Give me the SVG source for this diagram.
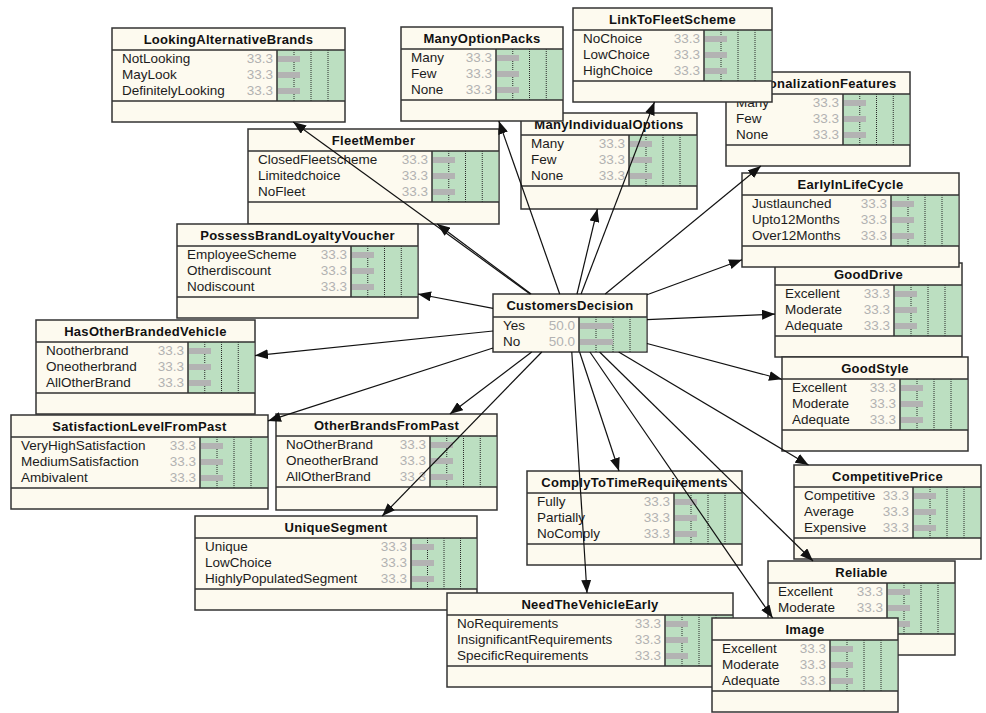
<svg xmlns="http://www.w3.org/2000/svg" width="986" height="713" viewBox="0 0 986 713">
<defs>
<style>
.bg{fill:#ffffff}
.box{fill:#fdfaef;stroke:#333;stroke-width:1.5}
.grn{fill:#bcdfc1}
.sep{stroke:#333;stroke-width:1.5;fill:none}
.dot{stroke:#2a2a2a;stroke-width:1;stroke-dasharray:1 1;fill:none}
.bar{fill:#b3b3b3}
.ttl{font-family:"Liberation Sans",Arial,sans-serif;font-size:13px;font-weight:bold;fill:#111;text-anchor:middle;letter-spacing:0.3px}
.st{font-family:"Liberation Sans",Arial,sans-serif;font-size:13.5px;fill:#1c1c1c}
.val{font-family:"Liberation Sans",Arial,sans-serif;font-size:13.5px;fill:#b2b2b2;text-anchor:end}
.edge{stroke:#111;stroke-width:1.2;fill:none;marker-end:url(#arr)}
</style>
<marker id="arr" markerUnits="userSpaceOnUse" markerWidth="13" markerHeight="10" viewBox="0 0 13 10" refX="13" refY="5" orient="auto">
<path d="M0,0 L13,5 L0,10 z" fill="#111"/>
</marker>
</defs>
<rect class="bg" x="0" y="0" width="986" height="713"/>

<g id="PersonalizationFeatures">
<rect class="box" x="726" y="72" width="184" height="94"/>
<rect class="grn" x="843" y="94" width="66.25" height="51"/>
<path class="dot" d="M859.75 94V145M876.5 94V145M893.25 94V145"/>
<path class="sep" d="M726 94H910M726 145H910M843 94V145"/>
<rect class="bar" x="844" y="100" width="22" height="6"/><rect class="bar" x="844" y="116" width="22" height="6"/><rect class="bar" x="844" y="132" width="22" height="6"/>
<text class="ttl" x="818" y="88">PersonalizationFeatures</text>
<text class="st" x="736" y="107">Many</text><text class="st" x="736" y="123">Few</text><text class="st" x="736" y="139">None</text>
<text class="val" x="839" y="107">33.3</text><text class="val" x="839" y="123">33.3</text><text class="val" x="839" y="139">33.3</text>
</g>

<g id="LinkToFleetScheme">
<rect class="box" x="573" y="8" width="199" height="94"/>
<rect class="grn" x="704" y="30" width="67.25" height="51"/>
<path class="dot" d="M721 30V81M738 30V81M755 30V81"/>
<path class="sep" d="M573 30H772M573 81H772M704 30V81"/>
<rect class="bar" x="705" y="36" width="22" height="6"/><rect class="bar" x="705" y="52" width="22" height="6"/><rect class="bar" x="705" y="68" width="22" height="6"/>
<text class="ttl" x="672.5" y="24">LinkToFleetScheme</text>
<text class="st" x="583" y="43">NoChoice</text><text class="st" x="583" y="59">LowChoice</text><text class="st" x="583" y="75">HighChoice</text>
<text class="val" x="700" y="43">33.3</text><text class="val" x="700" y="59">33.3</text><text class="val" x="700" y="75">33.3</text>
</g>

<g id="ManyIndividualOptions">
<rect class="box" x="521" y="113" width="176" height="96"/>
<rect class="grn" x="629" y="135" width="67.25" height="51"/>
<path class="dot" d="M646 135V186M663 135V186M680 135V186"/>
<path class="sep" d="M521 135H697M521 186H697M629 135V186"/>
<rect class="bar" x="630" y="141" width="22" height="6"/><rect class="bar" x="630" y="157" width="22" height="6"/><rect class="bar" x="630" y="173" width="22" height="6"/>
<text class="ttl" x="609" y="129">ManyIndividualOptions</text>
<text class="st" x="531" y="148">Many</text><text class="st" x="531" y="164">Few</text><text class="st" x="531" y="180">None</text>
<text class="val" x="625" y="148">33.3</text><text class="val" x="625" y="164">33.3</text><text class="val" x="625" y="180">33.3</text>
</g>

<g id="ManyOptionPacks">
<rect class="box" x="401" y="27" width="162" height="94"/>
<rect class="grn" x="496" y="49" width="66.25" height="51"/>
<path class="dot" d="M512.75 49V100M529.5 49V100M546.25 49V100"/>
<path class="sep" d="M401 49H563M401 100H563M496 49V100"/>
<rect class="bar" x="497" y="55" width="22" height="6"/><rect class="bar" x="497" y="71" width="22" height="6"/><rect class="bar" x="497" y="87" width="22" height="6"/>
<text class="ttl" x="482" y="43">ManyOptionPacks</text>
<text class="st" x="411" y="62">Many</text><text class="st" x="411" y="78">Few</text><text class="st" x="411" y="94">None</text>
<text class="val" x="492" y="62">33.3</text><text class="val" x="492" y="78">33.3</text><text class="val" x="492" y="94">33.3</text>
</g>

<g id="LookingAlternativeBrands">
<rect class="box" x="112" y="28" width="233" height="94"/>
<rect class="grn" x="277" y="50" width="67.25" height="51"/>
<path class="dot" d="M294 50V101M311 50V101M328 50V101"/>
<path class="sep" d="M112 50H345M112 101H345M277 50V101"/>
<rect class="bar" x="278" y="56" width="22" height="6"/><rect class="bar" x="278" y="72" width="22" height="6"/><rect class="bar" x="278" y="88" width="22" height="6"/>
<text class="ttl" x="228.5" y="44">LookingAlternativeBrands</text>
<text class="st" x="122" y="63">NotLooking</text><text class="st" x="122" y="79">MayLook</text><text class="st" x="122" y="95">DefinitelyLooking</text>
<text class="val" x="273" y="63">33.3</text><text class="val" x="273" y="79">33.3</text><text class="val" x="273" y="95">33.3</text>
</g>

<g id="FleetMember">
<rect class="box" x="248" y="129" width="251" height="95"/>
<rect class="grn" x="432" y="151" width="66.25" height="51"/>
<path class="dot" d="M448.75 151V202M465.5 151V202M482.25 151V202"/>
<path class="sep" d="M248 151H499M248 202H499M432 151V202"/>
<rect class="bar" x="433" y="157" width="22" height="6"/><rect class="bar" x="433" y="173" width="22" height="6"/><rect class="bar" x="433" y="189" width="22" height="6"/>
<text class="ttl" x="373.5" y="145">FleetMember</text>
<text class="st" x="258" y="164">ClosedFleetscheme</text><text class="st" x="258" y="180">Limitedchoice</text><text class="st" x="258" y="196">NoFleet</text>
<text class="val" x="428" y="164">33.3</text><text class="val" x="428" y="180">33.3</text><text class="val" x="428" y="196">33.3</text>
</g>

<g id="PossessBrandLoyaltyVoucher">
<rect class="box" x="177" y="224" width="241" height="94"/>
<rect class="grn" x="351" y="246" width="66.25" height="51"/>
<path class="dot" d="M367.75 246V297M384.5 246V297M401.25 246V297"/>
<path class="sep" d="M177 246H418M177 297H418M351 246V297"/>
<rect class="bar" x="352" y="252" width="22" height="6"/><rect class="bar" x="352" y="268" width="22" height="6"/><rect class="bar" x="352" y="284" width="22" height="6"/>
<text class="ttl" x="297.5" y="240">PossessBrandLoyaltyVoucher</text>
<text class="st" x="187" y="259">EmployeeScheme</text><text class="st" x="187" y="275">Otherdiscount</text><text class="st" x="187" y="291">Nodiscount</text>
<text class="val" x="347" y="259">33.3</text><text class="val" x="347" y="275">33.3</text><text class="val" x="347" y="291">33.3</text>
</g>

<g id="HasOtherBrandedVehicle">
<rect class="box" x="36" y="320" width="219" height="94"/>
<rect class="grn" x="188" y="342" width="66.25" height="51"/>
<path class="dot" d="M204.75 342V393M221.5 342V393M238.25 342V393"/>
<path class="sep" d="M36 342H255M36 393H255M188 342V393"/>
<rect class="bar" x="189" y="348" width="22" height="6"/><rect class="bar" x="189" y="364" width="22" height="6"/><rect class="bar" x="189" y="380" width="22" height="6"/>
<text class="ttl" x="145.5" y="336">HasOtherBrandedVehicle</text>
<text class="st" x="46" y="355">Nootherbrand</text><text class="st" x="46" y="371">Oneotherbrand</text><text class="st" x="46" y="387">AllOtherBrand</text>
<text class="val" x="184" y="355">33.3</text><text class="val" x="184" y="371">33.3</text><text class="val" x="184" y="387">33.3</text>
</g>

<g id="SatisfactionLevelFromPast">
<rect class="box" x="11" y="415" width="257" height="94"/>
<rect class="grn" x="200" y="437" width="67.25" height="51"/>
<path class="dot" d="M217 437V488M234 437V488M251 437V488"/>
<path class="sep" d="M11 437H268M11 488H268M200 437V488"/>
<rect class="bar" x="201" y="443" width="22" height="6"/><rect class="bar" x="201" y="459" width="22" height="6"/><rect class="bar" x="201" y="475" width="22" height="6"/>
<text class="ttl" x="139.5" y="431">SatisfactionLevelFromPast</text>
<text class="st" x="21" y="450">VeryHighSatisfaction</text><text class="st" x="21" y="466">MediumSatisfaction</text><text class="st" x="21" y="482">Ambivalent</text>
<text class="val" x="196" y="450">33.3</text><text class="val" x="196" y="466">33.3</text><text class="val" x="196" y="482">33.3</text>
</g>

<g id="OtherBrandsFromPast">
<rect class="box" x="276" y="414" width="221" height="96"/>
<rect class="grn" x="430" y="436" width="66.25" height="51"/>
<path class="dot" d="M446.75 436V487M463.5 436V487M480.25 436V487"/>
<path class="sep" d="M276 436H497M276 487H497M430 436V487"/>
<rect class="bar" x="431" y="442" width="22" height="6"/><rect class="bar" x="431" y="458" width="22" height="6"/><rect class="bar" x="431" y="474" width="22" height="6"/>
<text class="ttl" x="386.5" y="430">OtherBrandsFromPast</text>
<text class="st" x="286" y="449">NoOtherBrand</text><text class="st" x="286" y="465">OneotherBrand</text><text class="st" x="286" y="481">AllOtherBrand</text>
<text class="val" x="426" y="449">33.3</text><text class="val" x="426" y="465">33.3</text><text class="val" x="426" y="481">33.3</text>
</g>

<g id="UniqueSegment">
<rect class="box" x="195" y="516" width="282" height="94"/>
<rect class="grn" x="411" y="538" width="65.25" height="51"/>
<path class="dot" d="M427.5 538V589M444 538V589M460.5 538V589"/>
<path class="sep" d="M195 538H477M195 589H477M411 538V589"/>
<rect class="bar" x="412" y="544" width="22" height="6"/><rect class="bar" x="412" y="560" width="22" height="6"/><rect class="bar" x="412" y="576" width="22" height="6"/>
<text class="ttl" x="336" y="532">UniqueSegment</text>
<text class="st" x="205" y="551">Unique</text><text class="st" x="205" y="567">LowChoice</text><text class="st" x="205" y="583">HighlyPopulatedSegment</text>
<text class="val" x="407" y="551">33.3</text><text class="val" x="407" y="567">33.3</text><text class="val" x="407" y="583">33.3</text>
</g>

<g id="NeedTheVehicleEarly">
<rect class="box" x="447" y="593" width="286" height="94"/>
<rect class="grn" x="665" y="615" width="67.25" height="51"/>
<path class="dot" d="M682 615V666M699 615V666M716 615V666"/>
<path class="sep" d="M447 615H733M447 666H733M665 615V666"/>
<rect class="bar" x="666" y="621" width="22" height="6"/><rect class="bar" x="666" y="637" width="22" height="6"/><rect class="bar" x="666" y="653" width="22" height="6"/>
<text class="ttl" x="590" y="609">NeedTheVehicleEarly</text>
<text class="st" x="457" y="628">NoRequirements</text><text class="st" x="457" y="644">InsignificantRequirements</text><text class="st" x="457" y="660">SpecificRequirements</text>
<text class="val" x="661" y="628">33.3</text><text class="val" x="661" y="644">33.3</text><text class="val" x="661" y="660">33.3</text>
</g>

<g id="ComplyToTimeRequirements">
<rect class="box" x="527" y="471" width="215" height="94"/>
<rect class="grn" x="674" y="493" width="67.25" height="51"/>
<path class="dot" d="M691 493V544M708 493V544M725 493V544"/>
<path class="sep" d="M527 493H742M527 544H742M674 493V544"/>
<rect class="bar" x="675" y="499" width="22" height="6"/><rect class="bar" x="675" y="515" width="22" height="6"/><rect class="bar" x="675" y="531" width="22" height="6"/>
<text class="ttl" x="634.5" y="487">ComplyToTimeRequirements</text>
<text class="st" x="537" y="506">Fully</text><text class="st" x="537" y="522">Partially</text><text class="st" x="537" y="538">NoComply</text>
<text class="val" x="670" y="506">33.3</text><text class="val" x="670" y="522">33.3</text><text class="val" x="670" y="538">33.3</text>
</g>

<g id="CompetitivePrice">
<rect class="box" x="794" y="465" width="187" height="94"/>
<rect class="grn" x="913" y="487" width="67.25" height="51"/>
<path class="dot" d="M930 487V538M947 487V538M964 487V538"/>
<path class="sep" d="M794 487H981M794 538H981M913 487V538"/>
<rect class="bar" x="914" y="493" width="22" height="6"/><rect class="bar" x="914" y="509" width="22" height="6"/><rect class="bar" x="914" y="525" width="22" height="6"/>
<text class="ttl" x="887.5" y="481">CompetitivePrice</text>
<text class="st" x="804" y="500">Competitive</text><text class="st" x="804" y="516">Average</text><text class="st" x="804" y="532">Expensive</text>
<text class="val" x="909" y="500">33.3</text><text class="val" x="909" y="516">33.3</text><text class="val" x="909" y="532">33.3</text>
</g>

<g id="Reliable">
<rect class="box" x="768" y="561" width="187" height="94"/>
<rect class="grn" x="887" y="583" width="67.25" height="51"/>
<path class="dot" d="M904 583V634M921 583V634M938 583V634"/>
<path class="sep" d="M768 583H955M768 634H955M887 583V634"/>
<rect class="bar" x="888" y="589" width="22" height="6"/><rect class="bar" x="888" y="605" width="22" height="6"/><rect class="bar" x="888" y="621" width="22" height="6"/>
<text class="ttl" x="861.5" y="577">Reliable</text>
<text class="st" x="778" y="596">Excellent</text><text class="st" x="778" y="612">Moderate</text>
<text class="val" x="883" y="596">33.3</text><text class="val" x="883" y="612">33.3</text>
</g>

<g id="Image">
<rect class="box" x="712" y="618" width="186" height="94"/>
<rect class="grn" x="830" y="640" width="67.25" height="51"/>
<path class="dot" d="M847 640V691M864 640V691M881 640V691"/>
<path class="sep" d="M712 640H898M712 691H898M830 640V691"/>
<rect class="bar" x="831" y="646" width="22" height="6"/><rect class="bar" x="831" y="662" width="22" height="6"/><rect class="bar" x="831" y="678" width="22" height="6"/>
<text class="ttl" x="805" y="634">Image</text>
<text class="st" x="722" y="653">Excellent</text><text class="st" x="722" y="669">Moderate</text><text class="st" x="722" y="685">Adequate</text>
<text class="val" x="826" y="653">33.3</text><text class="val" x="826" y="669">33.3</text><text class="val" x="826" y="685">33.3</text>
</g>

<g id="GoodDrive">
<rect class="box" x="775" y="263" width="187" height="94"/>
<rect class="grn" x="894" y="285" width="67.25" height="51"/>
<path class="dot" d="M911 285V336M928 285V336M945 285V336"/>
<path class="sep" d="M775 285H962M775 336H962M894 285V336"/>
<rect class="bar" x="895" y="291" width="22" height="6"/><rect class="bar" x="895" y="307" width="22" height="6"/><rect class="bar" x="895" y="323" width="22" height="6"/>
<text class="ttl" x="868.5" y="279">GoodDrive</text>
<text class="st" x="785" y="298">Excellent</text><text class="st" x="785" y="314">Moderate</text><text class="st" x="785" y="330">Adequate</text>
<text class="val" x="890" y="298">33.3</text><text class="val" x="890" y="314">33.3</text><text class="val" x="890" y="330">33.3</text>
</g>

<g id="EarlyInLifeCycle">
<rect class="box" x="742" y="173" width="217" height="94"/>
<rect class="grn" x="891" y="195" width="67.25" height="51"/>
<path class="dot" d="M908 195V246M925 195V246M942 195V246"/>
<path class="sep" d="M742 195H959M742 246H959M891 195V246"/>
<rect class="bar" x="892" y="201" width="22" height="6"/><rect class="bar" x="892" y="217" width="22" height="6"/><rect class="bar" x="892" y="233" width="22" height="6"/>
<text class="ttl" x="850.5" y="189">EarlyInLifeCycle</text>
<text class="st" x="752" y="208">Justlaunched</text><text class="st" x="752" y="224">Upto12Months</text><text class="st" x="752" y="240">Over12Months</text>
<text class="val" x="887" y="208">33.3</text><text class="val" x="887" y="224">33.3</text><text class="val" x="887" y="240">33.3</text>
</g>

<g id="GoodStyle">
<rect class="box" x="782" y="357" width="186" height="94"/>
<rect class="grn" x="900" y="379" width="67.25" height="51"/>
<path class="dot" d="M917 379V430M934 379V430M951 379V430"/>
<path class="sep" d="M782 379H968M782 430H968M900 379V430"/>
<rect class="bar" x="901" y="385" width="22" height="6"/><rect class="bar" x="901" y="401" width="22" height="6"/><rect class="bar" x="901" y="417" width="22" height="6"/>
<text class="ttl" x="875" y="373">GoodStyle</text>
<text class="st" x="792" y="392">Excellent</text><text class="st" x="792" y="408">Moderate</text><text class="st" x="792" y="424">Adequate</text>
<text class="val" x="896" y="392">33.3</text><text class="val" x="896" y="408">33.3</text><text class="val" x="896" y="424">33.3</text>
</g>

<g id="CustomersDecision">
<rect class="box" x="493" y="294" width="154" height="58"/>
<rect class="grn" x="579" y="317" width="67.25" height="34.25"/>
<path class="dot" d="M596 317V352M613 317V352M630 317V352"/>
<path class="sep" d="M493 317H647M579 317V352"/>
<rect class="bar" x="580" y="323" width="33" height="6"/><rect class="bar" x="580" y="339" width="33" height="6"/>
<text class="ttl" x="570" y="310">CustomersDecision</text>
<text class="st" x="503" y="330">Yes</text><text class="st" x="503" y="346">No</text>
<text class="val" x="575" y="330">50.0</text><text class="val" x="575" y="346">50.0</text>
</g>

<g id="connectors">
<line class="edge" x1="530.1" y1="294" x2="293.2" y2="122"/>
<line class="edge" x1="559.7" y1="294" x2="498.8" y2="121"/>
<line class="edge" x1="581.1" y1="294" x2="654.5" y2="102"/>
<line class="edge" x1="605.2" y1="294" x2="760.9" y2="166"/>
<line class="edge" x1="577" y1="294" x2="597.4" y2="209"/>
<line class="edge" x1="531.1" y1="294" x2="437.2" y2="224"/>
<line class="edge" x1="493" y1="308.3" x2="418" y2="294"/>
<line class="edge" x1="493" y1="331" x2="255" y2="355.6"/>
<line class="edge" x1="493" y1="348" x2="268" y2="420.9"/>
<line class="edge" x1="531.7" y1="352" x2="449.9" y2="414"/>
<line class="edge" x1="541.8" y1="352" x2="382.2" y2="516"/>
<line class="edge" x1="579.6" y1="352" x2="619" y2="471"/>
<line class="edge" x1="571.8" y1="352" x2="587" y2="593"/>
<line class="edge" x1="589.9" y1="352" x2="772.7" y2="618"/>
<line class="edge" x1="599.6" y1="352" x2="813" y2="561"/>
<line class="edge" x1="618.7" y1="352" x2="808.5" y2="465"/>
<line class="edge" x1="647" y1="343.5" x2="782" y2="379.3"/>
<line class="edge" x1="647" y1="319.6" x2="775" y2="314.1"/>
<line class="edge" x1="647" y1="294.7" x2="742" y2="259.8"/>
</g>
</svg>
